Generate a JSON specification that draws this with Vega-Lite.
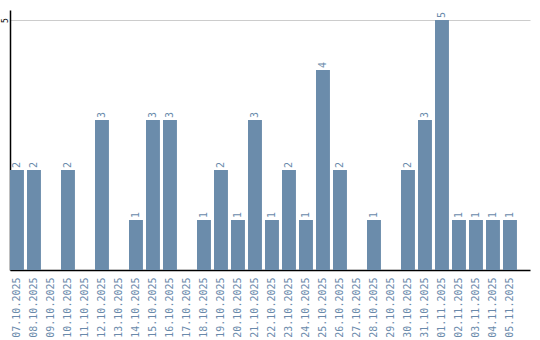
{
  "$schema": "https://vega.github.io/schema/vega-lite/v6.json",
  "width": 520,
  "height": 260,
  "autosize": {"type": "none"},
  "padding": {"left": 10, "top": 10, "right": 10, "bottom": 70},
  "background": "white",
  "config": {"view": {"stroke": null}, "font": "DejaVu Sans Mono"},
  "data": {"values": [
    {"date": "07.10.2025", "value": 2}, {"date": "08.10.2025", "value": 2}, {"date": "09.10.2025", "value": 0},
    {"date": "10.10.2025", "value": 2}, {"date": "11.10.2025", "value": 0}, {"date": "12.10.2025", "value": 3},
    {"date": "13.10.2025", "value": 0}, {"date": "14.10.2025", "value": 1}, {"date": "15.10.2025", "value": 3},
    {"date": "16.10.2025", "value": 3}, {"date": "17.10.2025", "value": 0}, {"date": "18.10.2025", "value": 1},
    {"date": "19.10.2025", "value": 2}, {"date": "20.10.2025", "value": 1}, {"date": "21.10.2025", "value": 3},
    {"date": "22.10.2025", "value": 1}, {"date": "23.10.2025", "value": 2}, {"date": "24.10.2025", "value": 1},
    {"date": "25.10.2025", "value": 4}, {"date": "26.10.2025", "value": 2}, {"date": "27.10.2025", "value": 0},
    {"date": "28.10.2025", "value": 1}, {"date": "29.10.2025", "value": 0}, {"date": "30.10.2025", "value": 2},
    {"date": "31.10.2025", "value": 3}, {"date": "01.11.2025", "value": 5}, {"date": "02.11.2025", "value": 1},
    {"date": "03.11.2025", "value": 1}, {"date": "04.11.2025", "value": 1}, {"date": "05.11.2025", "value": 1}
  ]},
  "encoding": {
    "x": {
      "field": "date", "type": "nominal", "sort": null,
      "scale": {"paddingInner": 0.18, "paddingOuter": 0.384, "align": 0},
      "axis": {"title": null, "labelAngle": 270, "ticks": false, "labelPadding": 7, "labelFontSize": 10,
               "labelColor": "#6a8aab", "domainColor": "black", "domainWidth": 1.5, "labelFont": "DejaVu Sans Mono"}
    },
    "y": {
      "field": "value", "type": "quantitative",
      "scale": {"domain": [0, 5.2], "nice": false},
      "axis": {"title": null, "values": [5], "grid": true, "gridColor": "#cccccc", "ticks": false,
               "labelAngle": 270, "labelAlign": "center", "labelBaseline": "alphabetic",
               "labelColor": "black", "labelFontSize": 8, "labelPadding": 3,
               "domainColor": "black", "domainWidth": 1.5, "labelFont": "DejaVu Sans Mono"}
    }
  },
  "layer": [
    {"mark": {"type": "bar", "color": "#6b8cab"}},
    {
      "transform": [{"filter": "datum.value > 0"}],
      "mark": {"type": "text", "angle": 270, "align": "left", "baseline": "middle", "dx": 2,
               "fontSize": 10, "color": "#6a8aab", "font": "DejaVu Sans Mono"},
      "encoding": {"text": {"field": "value", "type": "quantitative"}}
    }
  ]
}
